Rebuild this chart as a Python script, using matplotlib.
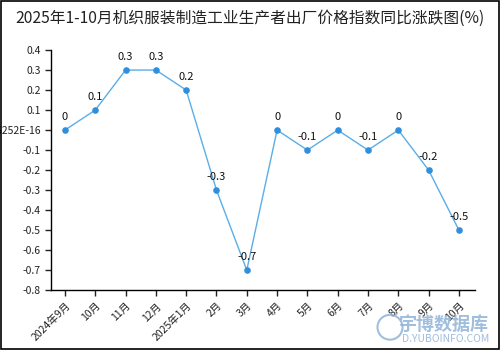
import matplotlib
matplotlib.use("Agg")
import matplotlib.pyplot as plt
import matplotlib.patches as mpatches

plt.rcParams['font.family'] = ['Noto Sans CJK SC', 'DejaVu Sans']

# ── Data ─────────────────────────────────────────────────────────────────────
months = ["2024年9月", "10月", "11月", "12月", "2025年1月", "2月", "3月",
          "4月", "5月", "6月", "7月", "8月", "9月", "10月"]
values = [0, 0.1, 0.3, 0.3, 0.2, -0.3, -0.7, 0, -0.1, 0, -0.1, 0, -0.2, -0.5]
yticks = [0.4, 0.3, 0.2, 0.1, 0.0, -0.1, -0.2, -0.3, -0.4, -0.5, -0.6, -0.7, -0.8]

# ── Plot ─────────────────────────────────────────────────────────────────────
fig = plt.figure(figsize=(5, 3.5), dpi=100)
ax = fig.add_axes([0.102, 0.171, 0.848, 0.686])
x = list(range(len(months)))

ax.plot(x, values, color="#5aaee8", lw=1.0, zorder=2)
ax.scatter(x, values, color="#2f8fdc", s=14, zorder=3)
for i, v in enumerate(values):
    lbl = "0" if v == 0 else f"{v:g}"
    ax.annotate(lbl, (i, v), xytext=(0, 6), textcoords="offset points",
                ha="center", va="bottom", fontsize=8, color="#111111")

ax.set_xlim(-0.46, len(months) - 0.47)
ax.set_ylim(-0.8, 0.4)
ax.set_yticks(yticks)
ax.set_yticklabels(["1.1102230246252E-16" if t == 0 else f"{t:g}" for t in yticks])
ax.set_xticks(x)
ax.set_xticklabels(months, rotation=45, ha="right", rotation_mode="anchor")
ax.tick_params(axis="both", labelsize=7.5, length=4, width=1, colors="#222222")
ax.spines[["top", "right"]].set_visible(False)
ax.spines[["left", "bottom"]].set_linewidth(1.0)

fig.text(0.5, 0.948, "2025年1-10月机织服装制造工业生产者出厂价格指数同比涨跌图(%)",
         ha="center", va="center", fontsize=11.3, color="#222222")

# watermark
fig.text(0.978, 0.074, "宇博数据库", ha="right", va="center", fontsize=13,
         color="#8fb3d9", alpha=0.85, fontweight="bold")
fig.text(0.978, 0.030, "D.YUBOINFO.COM", ha="right", va="center", fontsize=7.5,
         color="#8fb3d9", alpha=0.85)
fig.patches.append(mpatches.Ellipse((0.78, 0.065), 0.05, 0.071, transform=fig.transFigure,
                                    fill=False, edgecolor="#8fb3d9", lw=1.5, alpha=0.85,
                                    figure=fig))

# figure border
fig.patches.append(mpatches.Rectangle((0.002, 0.003), 0.996, 0.994,
                                      transform=fig.transFigure, fill=False,
                                      edgecolor="black", lw=1.2, figure=fig))

plt.savefig("out.png", dpi=100)
plt.close()
